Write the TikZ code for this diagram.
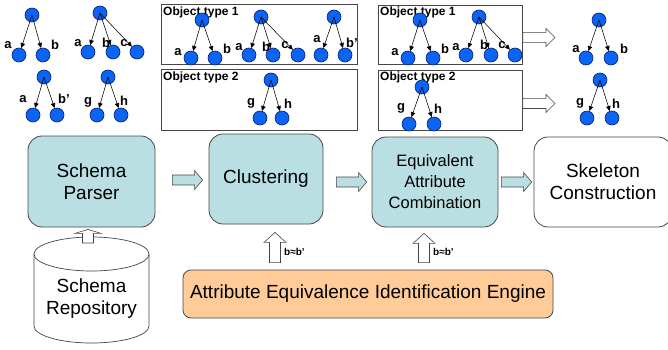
\documentclass[tikz,border=0pt]{standalone}
\usepackage{fontspec}
\setmainfont{Liberation Sans}
\usetikzlibrary{arrows.meta,calc}
\definecolor{mteal}{RGB}{185,223,227}
\definecolor{peach}{RGB}{255,204,153}
\definecolor{nblue}{RGB}{10,100,245}
\definecolor{nedge}{RGB}{10,30,110}
\definecolor{bord}{RGB}{70,70,70}
\newcommand\harr[6]{\path[#1] let \p1=#2, \p2=#3 in (\x1,\y1+#4) -- (\x2-#6,\y1+#4) -- (\x2-#6,\y1+#5) -- (\x2,\y1) -- (\x2-#6,\y1-#5) -- (\x2-#6,\y1-#4) -- (\x1,\y1-#4) -- cycle;}
\newcommand\varr[6]{\path[#1] let \p1=#2, \p2=#3 in (\x1-#4,\y1) -- (\x1-#4,\y2-#6) -- (\x1-#5,\y2-#6) -- (\x1,\y2) -- (\x1+#5,\y2-#6) -- (\x1+#4,\y2-#6) -- (\x1+#4,\y1) -- cycle;}
\tikzset{
  tn/.style={circle, fill=nblue, draw=nedge, line width=0.6pt, minimum size=14pt, inner sep=0pt},
  ta/.style={-{Triangle[length=5pt,width=4.5pt]}, line width=0.55pt, black},
  lb/.style={font=\bfseries\fontsize{13}{13}\selectfont, inner sep=0pt},
  ottl/.style={font=\bfseries\fontsize{12}{12}\selectfont, inner sep=0pt, anchor=west},
  otbox/.style={draw=bord, line width=0.9pt, anchor=north west, inner sep=0pt},
  mainbox/.style={draw=bord, line width=0.8pt, rounded corners=14pt, align=center, inner sep=0pt, font=\fontsize{19}{22}\selectfont},
  tealarrow/.style={fill=mteal, draw=bord, line width=0.6pt},
  hollow/.style={fill=white, draw=bord, line width=0.6pt},
  eqlb/.style={font=\bfseries\fontsize{10}{10}\selectfont, inner sep=0pt, anchor=west},
}
\begin{document}
\begin{tikzpicture}[x=1pt,y=-1pt]
\useasboundingbox (0,0) rectangle (668,350);

% ---------- top-left trees ----------
\node[tn] (t1r) at (32,15) {};
\node[tn] (t1a) at (19,55) {};
\node[tn] (t1b) at (43,55) {};
\node[lb] (t1la) at (8,45) {a};
\node[lb] (t1lb) at (55,45) {b};
\draw[ta] (t1r.center) -- (t1a); \draw[ta] (t1r.center) -- (t1b);

\node[tn] (t2r) at (100,13) {};
\node[tn] (t2a) at (88,52) {};
\node[tn] (t2b) at (113,52) {};
\node[tn] (t2c) at (137,52) {};
\node[lb] (t2la) at (78,43) {a};
\node[lb] (t2lb) at (106,43) {b};
\node[lb] (t2lc) at (124,43) {c};
\draw[ta] (t2r.center) -- (t2a); \draw[ta] (t2r.center) -- (t2b); \draw[ta] (t2r.center) -- (t2c);

\node[tn] (t3r) at (44,77) {};
\node[tn] (t3a) at (33,115) {};
\node[tn] (t3b) at (57,115) {};
\node[lb] (t3la) at (23,99) {a};
\node[lb] (t3lb) at (64,99) {b'};
\draw[ta] (t3r.center) -- (t3a); \draw[ta] (t3r.center) -- (t3b);

\node[tn] (t4r) at (108,77) {};
\node[tn] (t4g) at (97,115) {};
\node[tn] (t4h) at (121,115) {};
\node[lb] (t4lg) at (88,102) {g};
\node[lb] (t4lh) at (124,101) {h};
\draw[ta] (t4r.center) -- (t4g); \draw[ta] (t4r.center) -- (t4h);

% ---------- middle boxes ----------
\node[otbox, minimum width=196pt, minimum height=60pt] (ot1) at (161,4) {};
\node[otbox, minimum width=196pt, minimum height=61pt] (ot2) at (161,69) {};
\node[ottl] (ot1t) at (163,12) {Object type 1};
\node[ottl] (ot2t) at (163,77) {Object type 2};

\node[tn] (m1r) at (202,20) {};
\node[tn] (m1a) at (191,58) {};
\node[tn] (m1b) at (215,58) {};
\node[lb] (m1la) at (178,52) {a};
\node[lb] (m1lb) at (227,49) {b};
\draw[ta] (m1r.center) -- (m1a); \draw[ta] (m1r.center) -- (m1b);

\node[tn] (m2r) at (261,17) {};
\node[tn] (m2a) at (249,55) {};
\node[tn] (m2b) at (273,55) {};
\node[tn] (m2c) at (298,55) {};
\node[lb] (m2la) at (239,47) {a};
\node[lb] (m2lb) at (266,47) {b};
\node[lb] (m2lc) at (285,45) {c};
\draw[ta] (m2r.center) -- (m2a); \draw[ta] (m2r.center) -- (m2b); \draw[ta] (m2r.center) -- (m2c);

\node[tn] (m3r) at (334,17) {};
\node[tn] (m3a) at (321,55) {};
\node[tn] (m3b) at (345,55) {};
\node[lb] (m3la) at (317,39) {a};
\node[lb] (m3lb) at (352,43) {b'};
\draw[ta] (m3r.center) -- (m3a); \draw[ta] (m3r.center) -- (m3b);

\node[tn] (m4r) at (271,80) {};
\node[tn] (m4g) at (260,118) {};
\node[tn] (m4h) at (282,118) {};
\node[lb] (m4lg) at (251,103) {g};
\node[lb] (m4lh) at (288,104) {h};
\draw[ta] (m4r.center) -- (m4g); \draw[ta] (m4r.center) -- (m4h);

% ---------- right boxes ----------
\node[otbox, minimum width=144pt, minimum height=59pt] (ot1r) at (378,5) {};
\node[otbox, minimum width=144pt, minimum height=60pt] (ot2r) at (378,70) {};
\node[ottl] (ot1rt) at (380,12) {Object type 1};
\node[ottl] (ot2rt) at (380,77) {Object type 2};

\node[tn] (r1r) at (420,20) {};
\node[tn] (r1a) at (408,58) {};
\node[tn] (r1b) at (433,58) {};
\node[lb] (r1la) at (395,52) {a};
\node[lb] (r1lb) at (445,49) {b};
\draw[ta] (r1r.center) -- (r1a); \draw[ta] (r1r.center) -- (r1b);

\node[tn] (r2r) at (479,17) {};
\node[tn] (r2a) at (466,55) {};
\node[tn] (r2b) at (491,55) {};
\node[tn] (r2c) at (515,55) {};
\node[lb] (r2la) at (456,47) {a};
\node[lb] (r2lb) at (484,45) {b};
\node[lb] (r2lc) at (502,45) {c};
\draw[ta] (r2r.center) -- (r2a); \draw[ta] (r2r.center) -- (r2b); \draw[ta] (r2r.center) -- (r2c);

\node[tn] (r3r) at (422,87) {};
\node[tn] (r3g) at (409,124) {};
\node[tn] (r3h) at (434,124) {};
\node[lb] (r3lg) at (401,108) {g};
\node[lb] (r3lh) at (438,109) {h};
\draw[ta] (r3r.center) -- (r3g); \draw[ta] (r3r.center) -- (r3h);

% ---------- far right trees ----------
\node[tn] (f1r) at (599,20) {};
\node[tn] (f1a) at (586,58) {};
\node[tn] (f1b) at (611,58) {};
\node[lb] (f1la) at (576,49) {a};
\node[lb] (f1lb) at (624,49) {b};
\draw[ta] (f1r.center) -- (f1a); \draw[ta] (f1r.center) -- (f1b);

\node[tn] (f2r) at (600,80) {};
\node[tn] (f2g) at (587,118) {};
\node[tn] (f2h) at (612,118) {};
\node[lb] (f2lg) at (580,103) {g};
\node[lb] (f2lh) at (616,104) {h};
\draw[ta] (f2r.center) -- (f2g); \draw[ta] (f2r.center) -- (f2h);

% hollow arrows
\coordinate (ha1s) at ($(ot1r.east)+(0,2.5)$);
\coordinate (ha1e) at (555,37);
\coordinate (ha2s) at ($(ot2r.east)+(0,3)$);
\coordinate (ha2e) at (555,103);
\harr{hollow}{(ha1s)}{(ha1e)}{5pt}{9pt}{9pt}
\harr{hollow}{(ha2s)}{(ha2e)}{5pt}{9pt}{9pt}

% ---------- main flow ----------
\node[mainbox, fill=mteal, minimum width=127pt, minimum height=91pt] (parser) at (91.5,181.5) {Schema\\Parser};
\node[mainbox, fill=mteal, minimum width=114pt, minimum height=90pt] (clust) at (266,179) {Clustering};
\node[mainbox, fill=mteal, minimum width=126pt, minimum height=90pt, font=\fontsize{16.5}{21}\selectfont] (eac) at (435,182) {Equivalent\\Attribute\\Combination};
\node[mainbox, fill=white, minimum width=138pt, minimum height=90pt] (skel) at (603,182) {Skeleton\\Construction};
\node[mainbox, fill=peach, rounded corners=8pt, minimum width=370pt, minimum height=48pt] (engine) at (368,294) {Attribute Equivalence Identification Engine};

% cylinder
\draw[draw=bord, line width=0.7pt, fill=white] (34,254) -- (34,326) arc[start angle=180, end angle=0, x radius=57.5, y radius=17] -- (149,254);
\draw[draw=bord, line width=0.7pt, fill=white] (91.5,254) ellipse[x radius=57.5, y radius=17];
\coordinate (cyltop) at (91.5,237);
\node[font=\fontsize{19}{22}\selectfont, align=center, inner sep=0pt] (repo) at (91.5,299) {Schema\\Repository};

% block arrows between stages
\harr{tealarrow}{($(parser.east)+(17,-1.5)$)}{($(clust.west)+(-6,1)$)}{5pt}{9.5pt}{8pt}
\harr{tealarrow}{($(clust.east)+(13,3)$)}{($(eac.west)+(-5,0)$)}{5pt}{9.5pt}{8pt}
\harr{tealarrow}{($(eac.east)+(3,0)$)}{($(skel.west)+(-2,0)$)}{5pt}{9.5pt}{8pt}

\varr{hollow}{($(cyltop)+(-3.5,6)$)}{($(parser.south)+(-3.5,2)$)}{5.5pt}{13pt}{4pt}
\varr{hollow}{($(engine.north -| clust.south)+(9,-7)$)}{($(clust.south)+(9,8)$)}{5.5pt}{11pt}{10pt}
\varr{hollow}{($(engine.north -| eac.south)+(-11,-7)$)}{($(eac.south)+(-11,6)$)}{5.5pt}{11pt}{10pt}
\node[eqlb] (eq1) at (284,252) {b≈b'};
\node[eqlb] (eq2) at (433,252) {b≈b'};
\end{tikzpicture}
\end{document}
